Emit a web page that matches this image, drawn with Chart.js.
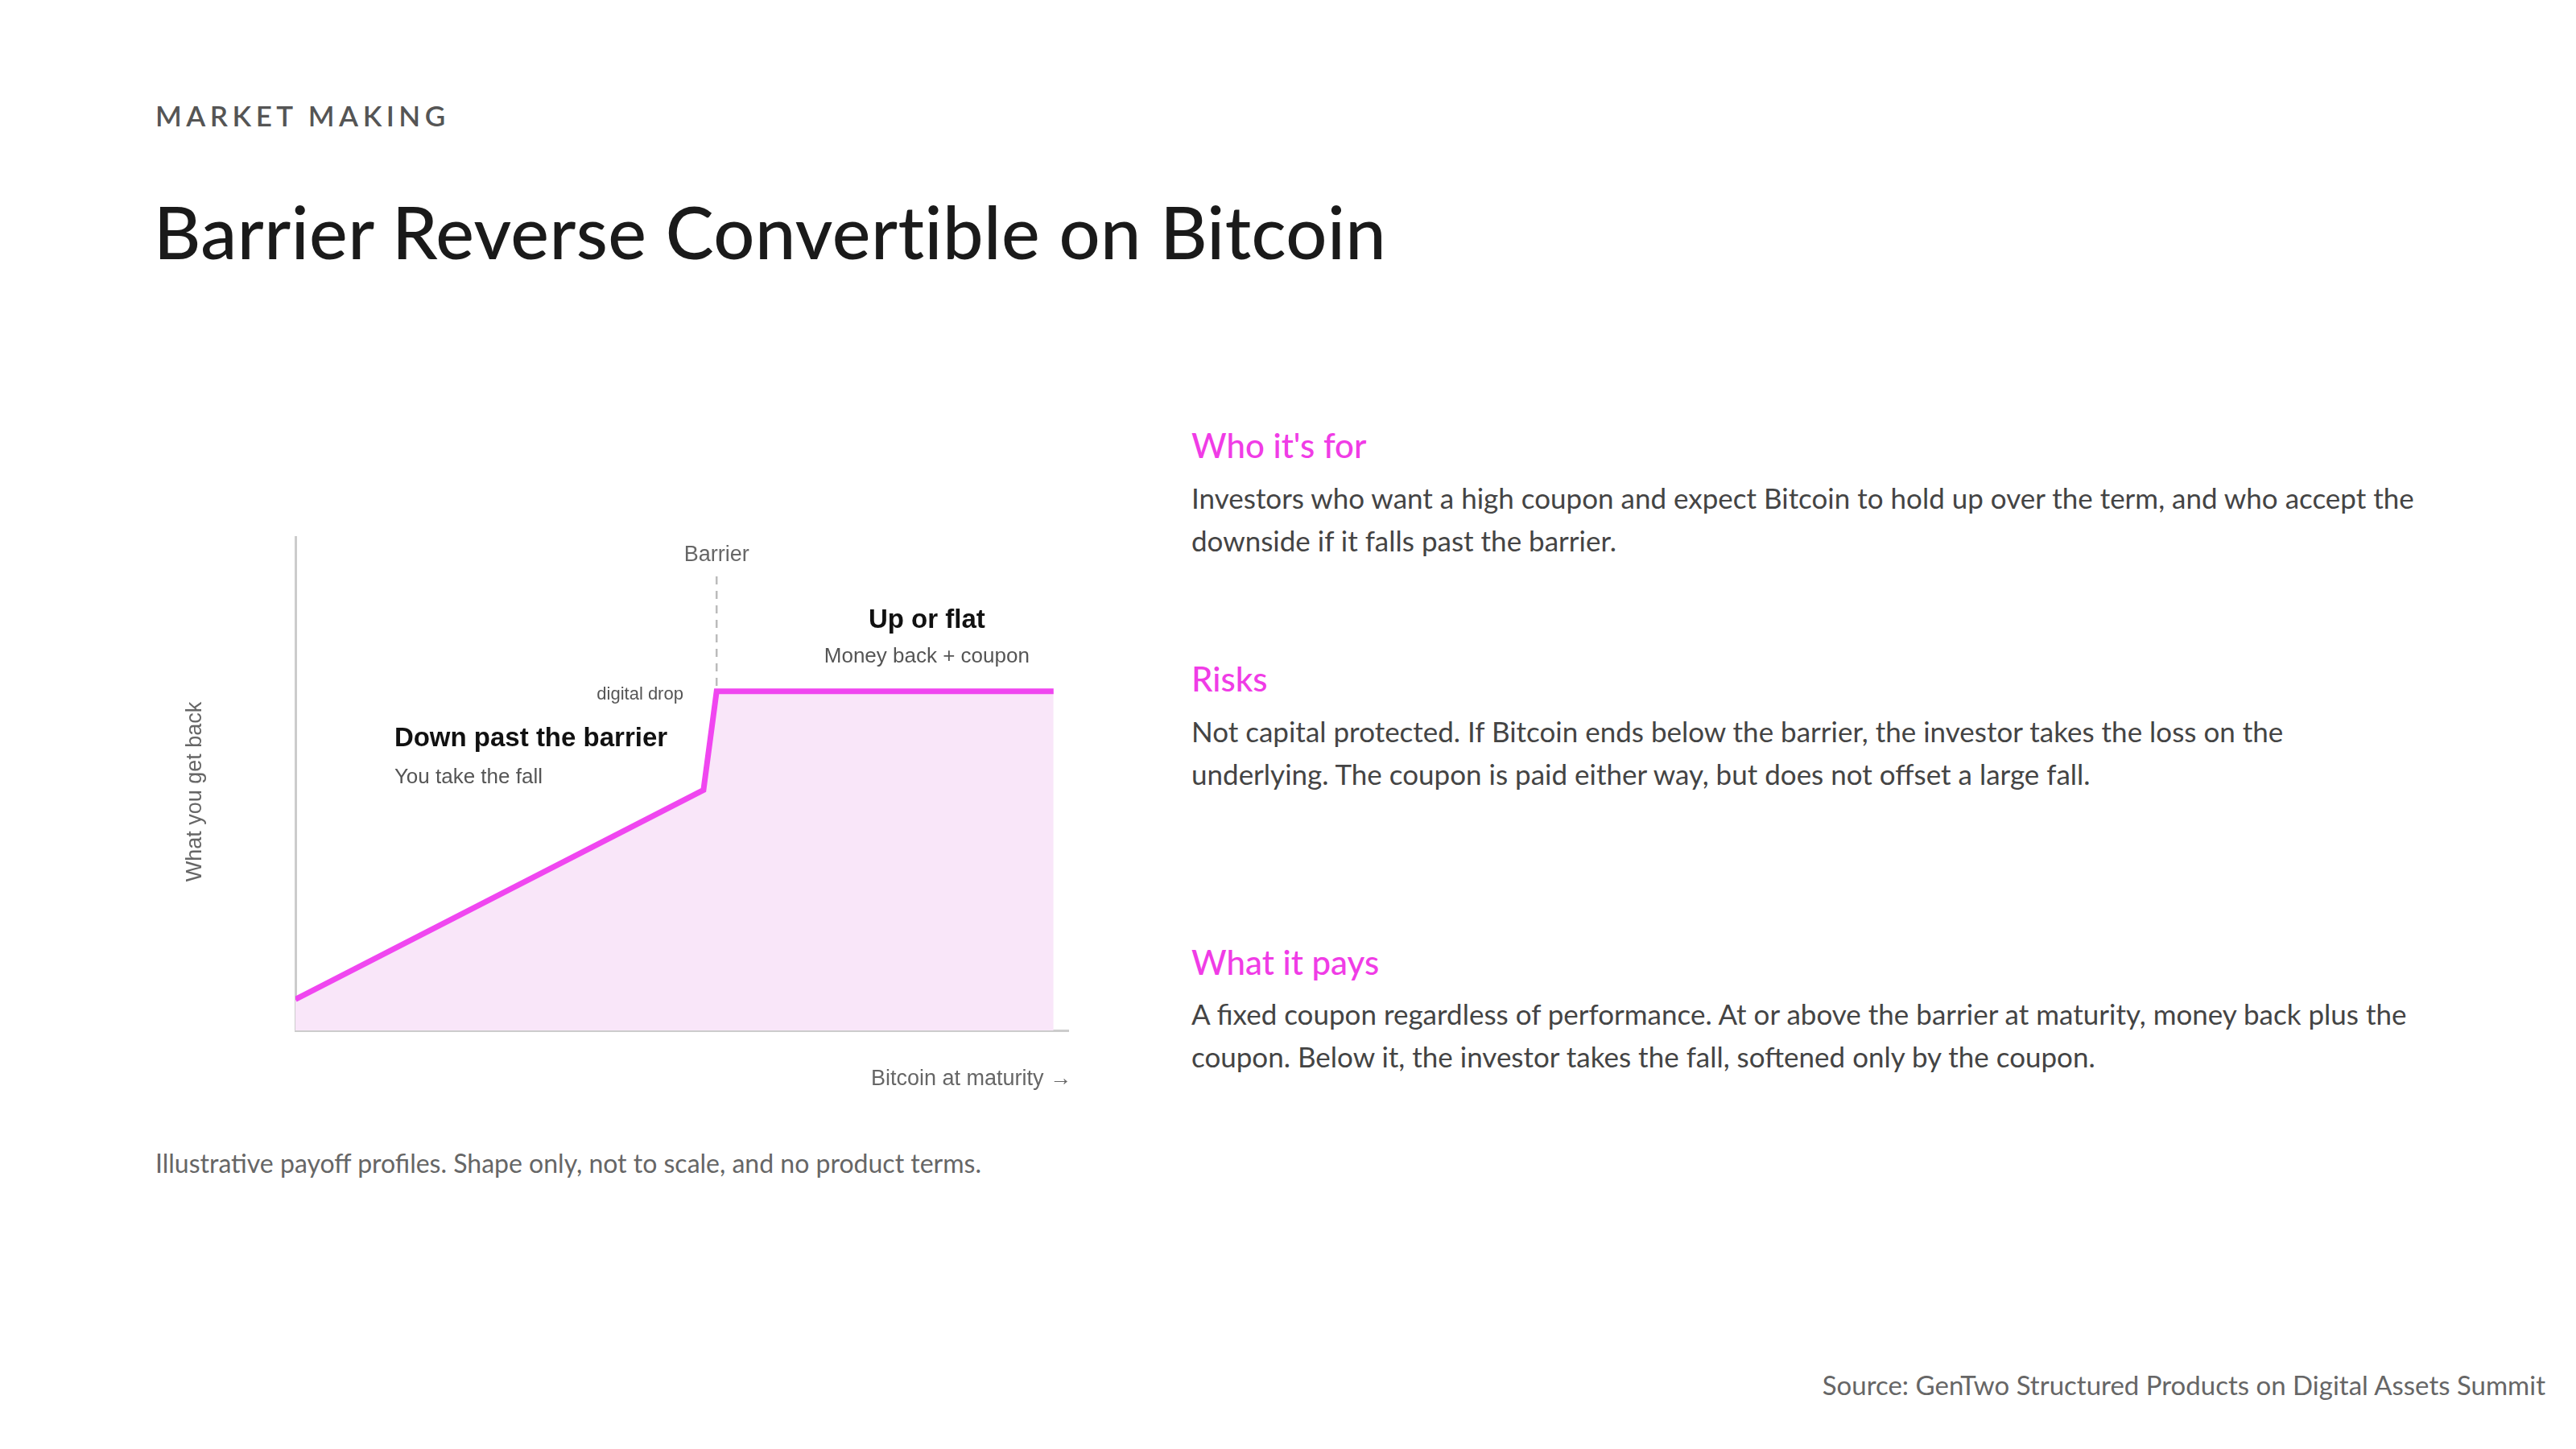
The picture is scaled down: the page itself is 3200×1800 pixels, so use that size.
<!DOCTYPE html>
<html>
<head>
<meta charset="utf-8">
<script src="https://cdn.jsdelivr.net/npm/chart.js@4/dist/chart.umd.min.js"></script>
<style>
  body { margin: 0; width: 3200px; height: 1800px; background: #fff; position: relative; font-family: Lato, "Open Sans", sans-serif; overflow: hidden; }
  .abs { position: absolute; white-space: nowrap; }
  .kicker { left: 193px; top: 122px; font-size: 35px; letter-spacing: 5.5px; color: #555; font-weight: 600; }
  .title { left: 191px; top: 233px; font-size: 90px; letter-spacing: 0.5px; color: #1a1a1a; font-weight: 500; }
  .h { left: 1480px; font-size: 42px; color: #f03ce6; font-weight: 500; }
  .p { left: 1480px; font-size: 35px; color: #444; line-height: 53px; white-space: normal; width: 1520px; }
  .note { left: 193px; top: 1425px; font-size: 32px; color: #666; }
  .src { right: 38px; top: 1700px; font-size: 33px; color: #666; }
  #wrap { position: absolute; left: 200px; top: 600px; width: 1200px; height: 800px; }
</style>
</head>
<body>
<div class="abs kicker">MARKET MAKING</div>
<div class="abs title">Barrier Reverse Convertible on Bitcoin</div>

<div class="abs h" style="top:528px">Who it's for</div>
<div class="abs p" style="top:592px">Investors who want a high coupon and expect Bitcoin to hold up over the term, and who accept the downside if it falls past the barrier.</div>
<div class="abs h" style="top:818px">Risks</div>
<div class="abs p" style="top:882px">Not capital protected. If Bitcoin ends below the barrier, the investor takes the loss on the underlying. The coupon is paid either way, but does not offset a large fall.</div>
<div class="abs h" style="top:1170px">What it pays</div>
<div class="abs p" style="top:1233px">A fixed coupon regardless of performance. At or above the barrier at maturity, money back plus the coupon. Below it, the investor takes the fall, softened only by the coupon.</div>

<div class="abs note">Illustrative payoff profiles. Shape only, not to scale, and no product terms.</div>
<div class="abs src">Source: GenTwo Structured Products on Digital Assets Summit</div>

<div id="wrap"><canvas id="payoff"></canvas></div>

<script>
// payoff shape (illustrative units, 0-100 on both axes)
const payoffX = [0, 52.8, 54.5, 98.1];
const payoffY = [6.3, 48.7, 68.7, 68.7];
const barrierX = 54.5;

// text anchored in data units
const notes = [
  { text: 'Barrier', x: 54.5, y: 96.3, size: 27, weight: 'normal', color: '#666', align: 'center' },
  { text: 'Up or flat', x: 81.7, y: 83, size: 33, weight: 'bold', color: '#111', align: 'center' },
  { text: 'Money back + coupon', x: 81.7, y: 75.7, size: 26, weight: 'normal', color: '#555', align: 'center' },
  { text: 'digital drop', x: 50.2, y: 68, size: 22, weight: 'normal', color: '#555', align: 'right' },
  { text: 'Down past the barrier', x: 12.8, y: 59, size: 33, weight: 'bold', color: '#111', align: 'left' },
  { text: 'You take the fall', x: 12.8, y: 51.3, size: 26, weight: 'normal', color: '#555', align: 'left' }
];

const labelPlugin = {
  id: 'labels',
  beforeDatasetsDraw(chart) {
    const ctx = chart.ctx, xs = chart.scales.x, ys = chart.scales.y;
    const px = xs.getPixelForValue(barrierX);
    ctx.save();
    ctx.strokeStyle = '#bbb';
    ctx.lineWidth = 2.5;
    ctx.setLineDash([10, 8]);
    ctx.beginPath();
    ctx.moveTo(px, ys.getPixelForValue(92));
    ctx.lineTo(px, ys.getPixelForValue(0));
    ctx.stroke();
    ctx.restore();
  },
  afterDraw(chart) {
    const ctx = chart.ctx, xs = chart.scales.x, ys = chart.scales.y, a = chart.chartArea;
    ctx.save();
    ctx.textBaseline = 'middle';
    notes.forEach(n => {
      ctx.font = n.weight + ' ' + n.size + 'px "Liberation Sans", Arial, sans-serif';
      ctx.fillStyle = n.color;
      ctx.textAlign = n.align;
      ctx.fillText(n.text, xs.getPixelForValue(n.x), ys.getPixelForValue(n.y));
    });
    ctx.font = '27px "Liberation Sans", Arial, sans-serif';
    ctx.fillStyle = '#666';
    ctx.textAlign = 'right';
    ctx.fillText('Bitcoin at maturity \u2192', a.right + 4, a.bottom + 61);
    ctx.translate(a.left - 124, (a.top + a.bottom) / 2 + 10);
    ctx.rotate(-Math.PI / 2);
    ctx.textAlign = 'center';
    ctx.fillText('What you get back', 0, 0);
    ctx.restore();
  }
};

new Chart(document.getElementById('payoff'), {
  type: 'line',
  data: {
    datasets: [{
      data: payoffX.map((x, i) => ({ x: x, y: payoffY[i] })),
      borderColor: '#f046f0',
      borderWidth: 7,
      backgroundColor: '#f9e6f9',
      fill: 'origin',
      pointRadius: 0,
      tension: 0
    }]
  },
  options: {
    responsive: true,
    maintainAspectRatio: false,
    animation: false,
    layout: { padding: { left: 159, right: 73, top: 67, bottom: 112 } },
    plugins: { legend: { display: false }, tooltip: { enabled: false } },
    scales: {
      x: { type: 'linear', min: 0, max: 100, grid: { display: false }, ticks: { display: false },
           border: { color: '#ccc', width: 3 } },
      y: { min: 0, max: 100, grid: { display: false }, ticks: { display: false },
           border: { color: '#ccc', width: 3 } }
    }
  },
  plugins: [labelPlugin]
});
</script>
</body>
</html>
